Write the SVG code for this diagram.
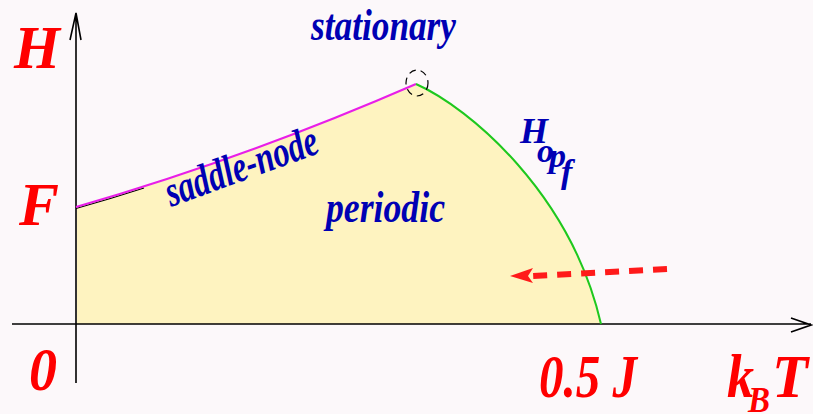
<svg xmlns="http://www.w3.org/2000/svg" width="813" height="414" viewBox="0 0 813 414">
<style>
.red{fill:#ff0000;font-family:"Liberation Serif",serif;font-weight:bold;font-style:italic}
.blue{fill:#0000b4;font-family:"Liberation Serif",serif;font-weight:bold;font-style:italic}
.axis{stroke:#000;stroke-width:1.6;fill:none}
</style>
<rect width="813" height="414" fill="#fcf8fa"/>
<g id="region">
<path d="M77,207 Q246,158 416,84 C470,108 571,194 601,324 L77,324 Z" fill="#fef3c0"/>
</g>
<g id="connectors">
<path class="axis" d="M76,383 V13 M70,40 L76,13 L81,40"/>
<path class="axis" d="M12,324 H811 M791,318 L811,325 L791,332"/>
<path d="M76,208.5 Q110,199 144,188" fill="none" stroke="#000" stroke-width="1.2"/>
<path d="M76,207 Q246,158 416,84" fill="none" stroke="#e81ee8" stroke-width="2"/>
<path d="M416,84 C470,108 571,194 601,324" fill="none" stroke="#1ec81e" stroke-width="2"/>
<ellipse cx="417" cy="83" rx="11" ry="13" fill="none" stroke="#000" stroke-width="1.2" stroke-dasharray="7,5"/>
<path d="M667,269 L532,276" fill="none" stroke="#ff1a1a" stroke-width="6" stroke-dasharray="14,10"/>
<path d="M510,276 L533,268 L528,276 L533,283 Z" fill="#ff1a1a"/>
</g>
<g id="labels">
<text class="red" x="14" y="68" font-size="62" textLength="46" lengthAdjust="spacingAndGlyphs">H</text>
<text class="red" x="19" y="225" font-size="62" textLength="40" lengthAdjust="spacingAndGlyphs">F</text>
<text class="red" x="29" y="390" font-size="62" textLength="28" lengthAdjust="spacingAndGlyphs">0</text>
<text class="red" x="539" y="397" font-size="62" textLength="98" lengthAdjust="spacingAndGlyphs">0.5 J</text>
<text class="red" x="727" y="397" font-size="62" textLength="27" lengthAdjust="spacingAndGlyphs">k</text>
<text class="red" x="748" y="412" font-size="36" textLength="22" lengthAdjust="spacingAndGlyphs">B</text>
<text class="red" x="772" y="397" font-size="62" textLength="36" lengthAdjust="spacingAndGlyphs">T</text>
<text class="blue" x="311" y="40" font-size="44" textLength="145" lengthAdjust="spacingAndGlyphs">stationary</text>
<text class="blue" x="326" y="222" font-size="44" textLength="119" lengthAdjust="spacingAndGlyphs">periodic</text>
<text class="blue" transform="translate(171,207) rotate(-20)" font-size="44" textLength="160" lengthAdjust="spacingAndGlyphs">saddle-node</text>
<text class="blue" x="520" y="143" font-size="36">H</text>
<text class="blue" x="537" y="162" font-size="34">o</text>
<text class="blue" x="549" y="167" font-size="34">p</text>
<text class="blue" x="561" y="183" font-size="34">f</text>
</g>
</svg>
